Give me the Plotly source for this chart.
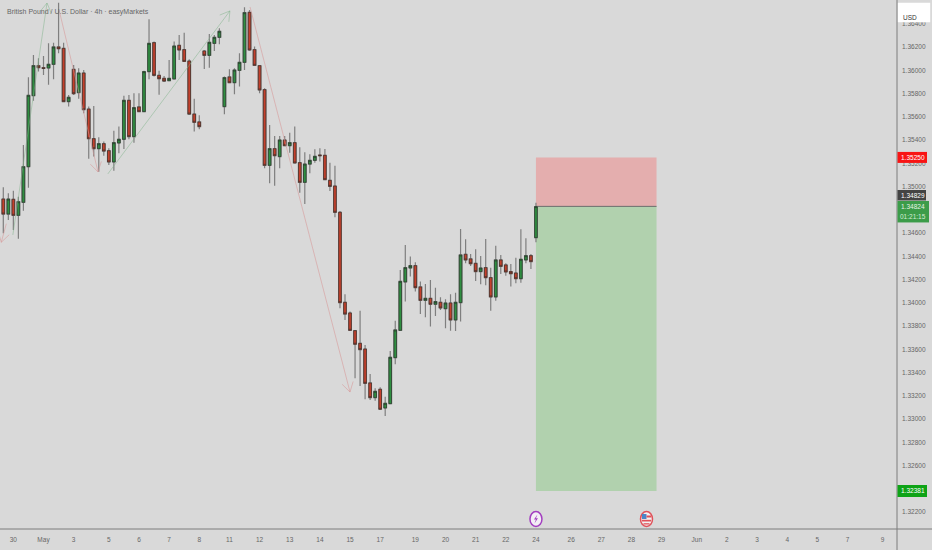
import math
import plotly.graph_objects as go

# 4h GBPUSD candles
opens = [1.34892, 1.34763, 1.34890, 1.34752, 1.34864, 1.35170, 1.35781, 1.36039, 1.36022, 1.36019,
         1.36051, 1.36200, 1.36188, 1.35730, 1.36008, 1.35807, 1.35976, 1.35666, 1.35411, 1.35325,
         1.35368, 1.35308, 1.35211, 1.35374, 1.35406, 1.35741, 1.35429, 1.35684, 1.35644, 1.35988,
         1.36237, 1.35956, 1.35930, 1.35910, 1.35925, 1.36214, 1.36177, 1.36079, 1.35623, 1.35555,
         1.36165, 1.36128, 1.36231, 1.36283, 1.35687, 1.35942, 1.35893, 1.35999, 1.36068, 1.36498,
         1.36177, 1.36039, 1.35833, 1.35182, 1.35325, 1.35257, 1.35400, 1.35351, 1.35377, 1.35205,
         1.35036, 1.35193, 1.35225, 1.35271, 1.35268, 1.35053, 1.35004, 1.34778, 1.34004, 1.33912,
         1.33760, 1.33651, 1.33602, 1.33310, 1.33184, 1.33256, 1.33095, 1.33132, 1.33528, 1.33763,
         1.34179, 1.34299, 1.34319, 1.34136, 1.34021, 1.34038, 1.33987, 1.34004, 1.33949, 1.33998,
         1.33852, 1.34001, 1.34417, 1.34377, 1.34339, 1.34268, 1.34302, 1.34216, 1.34050, 1.34368,
         1.34325, 1.34268, 1.34256, 1.34207, 1.34368, 1.34405, 1.34560]
highs = [1.34993, 1.34941, 1.34964, 1.34912, 1.35357, 1.35939, 1.36131, 1.36102, 1.36122, 1.36231,
         1.36237, 1.36581, 1.36237, 1.35787, 1.36045, 1.36016, 1.36002, 1.35687, 1.35692, 1.35423,
         1.35386, 1.35328, 1.35480, 1.35515, 1.35781, 1.35787, 1.35801, 1.35801, 1.35996, 1.36438,
         1.36246, 1.35996, 1.35950, 1.36088, 1.36246, 1.36303, 1.36323, 1.36094, 1.35755, 1.35612,
         1.36174, 1.36312, 1.36303, 1.36360, 1.35945, 1.36008, 1.36016, 1.36145, 1.36541, 1.36518,
         1.36203, 1.36045, 1.35844, 1.35529, 1.35434, 1.35434, 1.35434, 1.35463, 1.35515, 1.35337,
         1.35294, 1.35277, 1.35320, 1.35328, 1.35322, 1.35205, 1.35179, 1.34789, 1.34073, 1.33924,
         1.33766, 1.33932, 1.33637, 1.33387, 1.33264, 1.33273, 1.33192, 1.33585, 1.33846, 1.34282,
         1.34497, 1.34397, 1.34348, 1.34182, 1.34161, 1.34196, 1.34130, 1.34047, 1.34030, 1.34073,
         1.34087, 1.34635, 1.34546, 1.34420, 1.34460, 1.34402, 1.34549, 1.34302, 1.34491, 1.34411,
         1.34339, 1.34334, 1.34388, 1.34632, 1.34554, 1.34420, 1.34861]
lows = [1.34597, 1.34712, 1.34626, 1.34551, 1.34792, 1.34990, 1.35738, 1.35988, 1.35959, 1.35876,
        1.35922, 1.36145, 1.35727, 1.35687, 1.35787, 1.35755, 1.35629, 1.35239, 1.35257, 1.35127,
        1.35265, 1.35185, 1.35136, 1.35285, 1.35322, 1.35406, 1.35377, 1.35638, 1.35638, 1.35922,
        1.35945, 1.35790, 1.35899, 1.35907, 1.35922, 1.36088, 1.36071, 1.35615, 1.35472, 1.35492,
        1.36011, 1.36022, 1.36165, 1.36223, 1.35621, 1.35887, 1.35793, 1.35859, 1.36002, 1.36168,
        1.36036, 1.35801, 1.35156, 1.35027, 1.35007, 1.35156, 1.35351, 1.35291, 1.35199, 1.34947,
        1.34849, 1.35113, 1.35205, 1.35214, 1.35056, 1.34961, 1.34735, 1.33952, 1.33852, 1.33760,
        1.33350, 1.33284, 1.33170, 1.33164, 1.33158, 1.33078, 1.33026, 1.33129, 1.33471, 1.33760,
        1.34010, 1.34225, 1.34096, 1.33903, 1.33875, 1.33795, 1.33886, 1.33938, 1.33780, 1.33760,
        1.33757, 1.33838, 1.34339, 1.34316, 1.34187, 1.34159, 1.34150, 1.33932, 1.34018, 1.34248,
        1.34233, 1.34139, 1.34167, 1.34173, 1.34339, 1.34291, 1.34520]
closes = [1.34763, 1.34892, 1.34752, 1.34869, 1.35170, 1.35784, 1.36039, 1.36022, 1.36016, 1.36051,
          1.36200, 1.36185, 1.35730, 1.35767, 1.35798, 1.35976, 1.35661, 1.35411, 1.35325, 1.35368,
          1.35305, 1.35211, 1.35377, 1.35406, 1.35741, 1.35429, 1.35678, 1.35644, 1.35988, 1.36231,
          1.35956, 1.35927, 1.35907, 1.35930, 1.36208, 1.36174, 1.36076, 1.35623, 1.35552, 1.35515,
          1.36128, 1.36240, 1.36283, 1.36335, 1.35936, 1.35893, 1.36002, 1.36068, 1.36495, 1.36174,
          1.36042, 1.35830, 1.35182, 1.35325, 1.35265, 1.35400, 1.35351, 1.35377, 1.35202, 1.35036,
          1.35193, 1.35225, 1.35259, 1.35265, 1.35059, 1.35001, 1.34778, 1.34001, 1.33903, 1.33763,
          1.33643, 1.33597, 1.33307, 1.33184, 1.33238, 1.33084, 1.33135, 1.33531, 1.33766, 1.34184,
          1.34302, 1.34319, 1.34130, 1.34021, 1.34038, 1.33987, 1.34010, 1.33955, 1.33998, 1.33852,
          1.34004, 1.34411, 1.34368, 1.34336, 1.34268, 1.34299, 1.34216, 1.34050, 1.34368, 1.34313,
          1.34265, 1.34250, 1.34207, 1.34374, 1.34405, 1.34354, 1.34827]
bars = list(range(len(opens)))

# time axis
date_ticks = [2, 8, 14, 21, 27, 33, 39, 45, 51, 57, 63, 69, 75, 82, 88, 94, 100, 106, 113, 119, 125,
              131, 138, 144, 150, 156, 162, 168, 175]
date_labels = ["30", "May", "3", "5", "6", "7", "8", "11", "12", "13", "14", "15", "17", "19", "20", "21",
               "22", "24", "26", "27", "28", "29", "Jun", "2", "3", "4", "5", "7", "9"]
price_ticks = [1.322, 1.326, 1.328, 1.33, 1.332, 1.334, 1.336, 1.338, 1.34, 1.342, 1.344, 1.346,
               1.35, 1.352, 1.354, 1.356, 1.358, 1.36, 1.362, 1.364]

# long position box
box_bars = [106, 130]
stop_price = 1.3525
entry_price = 1.34829
target_price = 1.32381
last_price = 1.34824

# hand drawn arrows: bar0, price0, bar1, price1
green_arrows = [(1.9, 1.34583, 8.7, 1.36578), (20.8, 1.35108, 45.1, 1.3651)]
red_arrows = [(11.1, 1.36518, 18.85, 1.35125), (49.1, 1.36544, 69.0, 1.33232), (0.6, 1.3468, -0.4, 1.3452)]

# events on the time axis
event_price = 1.3214
flash_bar = 106
flag_bar = 128

bg = "#d9d9d9"
text_grey = "#666666"
font_name = "Liberation Sans"
bar_px = 5.025
price_px = 11625


def arrow_trace(a, color):
    x0, y0, x1, y1 = a
    # head is worked out in pixels so it keeps its shape
    ang = math.atan2((y1 - y0) * price_px, (x1 - x0) * bar_px)
    xs = [x0, x1, None]
    ys = [y0, y1, None]
    for d in (2.6, -2.6):
        xs += [x1 + 11 * math.cos(ang + d) / bar_px, x1, None]
        ys += [y1 + 11 * math.sin(ang + d) / price_px, y1, None]
    return go.Scatter(x=xs, y=ys, mode="lines", line=dict(color=color, width=1),
                      hoverinfo="skip", showlegend=False)


fig = go.Figure()

# wicks
fig.add_trace(go.Candlestick(
    x=bars, open=opens, high=highs, low=lows, close=closes, whiskerwidth=0,
    increasing=dict(line=dict(color="#7f7f7f", width=1.2), fillcolor="#7f7f7f"),
    decreasing=dict(line=dict(color="#7f7f7f", width=1.2), fillcolor="#7f7f7f"),
    hoverinfo="skip", showlegend=False))
# bodies
body_hi = [max(o, c) for o, c in zip(opens, closes)]
body_lo = [min(o, c) for o, c in zip(opens, closes)]
fig.add_trace(go.Candlestick(
    x=bars, open=opens, high=body_hi, low=body_lo, close=closes, whiskerwidth=0,
    increasing=dict(line=dict(color="#2c3d2f", width=0.8), fillcolor="#2f8f41"),
    decreasing=dict(line=dict(color="#4a322c", width=0.8), fillcolor="#c4402c"),
    hoverinfo="skip", showlegend=False))

for a in green_arrows:
    fig.add_trace(arrow_trace(a, "rgba(130,180,140,0.5)"))
for a in red_arrows:
    fig.add_trace(arrow_trace(a, "rgba(215,150,150,0.55)"))

shapes = [
    dict(type="rect", xref="x", yref="y", x0=box_bars[0], x1=box_bars[1], y0=entry_price, y1=stop_price,
         fillcolor="#e4aeae", line_width=0, layer="below"),
    dict(type="rect", xref="x", yref="y", x0=box_bars[0], x1=box_bars[1], y0=target_price, y1=entry_price,
         fillcolor="#b1d1ae", line_width=0, layer="below"),
    dict(type="line", xref="x", yref="y", x0=box_bars[0], x1=box_bars[1], y0=entry_price, y1=entry_price,
         line=dict(color="#6b6b6b", width=1), layer="below"),
    # pane borders
    dict(type="line", xref="paper", yref="paper", x0=0, x1=1.04, y0=0, y1=0, line=dict(color="#7d7d7d", width=1)),
    dict(type="line", xref="paper", yref="paper", x0=1, x1=1, y0=-0.04, y1=1, line=dict(color="#7d7d7d", width=1)),
    # USD box
    dict(type="rect", xref="paper", yref="paper", x0=1.001, x1=1.037, y0=0.958, y1=0.995,
         fillcolor="#ffffff", line_width=0),
]


def tag(price, color, top=5.5, bottom=-5.5, width=30):
    return dict(type="rect", xref="paper", yref="y", xsizemode="pixel", ysizemode="pixel", xanchor=1, yanchor=price,
                x0=0.5, x1=width, y0=bottom, y1=top, fillcolor=color, line_width=0)


shapes += [
    tag(stop_price, "#f81414"),
    # entry label is pushed up so it does not sit on the last price label
    tag(entry_price, "#444444", top=16.4, bottom=5.9, width=29),
    tag(last_price, "#3c9c49", top=6, bottom=-15.5, width=32),
    tag(target_price, "#0ea316", top=6, bottom=-6),
]


def icon(bar, **kw):
    base = dict(xref="x", yref="y", xsizemode="pixel", ysizemode="pixel", xanchor=bar, yanchor=event_price)
    base.update(kw)
    return base


shapes += [
    icon(flash_bar, type="circle", x0=-6, x1=6, y0=-7.5, y1=7.5, fillcolor="#f3eef5",
         line=dict(color="#a33fc0", width=1.5)),
    icon(flash_bar, type="path", path="M 1.5 4.5 L -2 -0.5 L 0 -0.5 L -1.5 -4.5 L 2 0.8 L 0 0.8 Z",
         fillcolor="#a33fc0", line_width=0),
    icon(flag_bar, type="circle", x0=-6, x1=6, y0=-7.5, y1=7.5, fillcolor="#f2f2f2",
         line=dict(color="#e0525a", width=1.5)),
    icon(flag_bar, type="rect", x0=-4.5, x1=0, y0=0, y1=5, fillcolor="#4a86c8", line_width=0),
    icon(flag_bar, type="rect", x0=0, x1=4.5, y0=1.5, y1=3.5, fillcolor="#e0525a", line_width=0),
    icon(flag_bar, type="rect", x0=-4.5, x1=4.5, y0=-2.5, y1=-0.8, fillcolor="#e0525a", line_width=0),
    icon(flag_bar, type="rect", x0=-3, x1=3, y0=-5.5, y1=-4.2, fillcolor="#e0525a", line_width=0),
]


def tag_text(price, text, yshift=0, x=1.0175, color="#ffffff"):
    return dict(xref="paper", yref="y", x=x, y=price, text=text, showarrow=False, yshift=yshift, xanchor="center",
                font=dict(family=font_name, size=6.5, color=color))


annotations = [
    dict(xref="paper", yref="paper", x=0.0055, y=0.9775, xanchor="left", yanchor="middle",
         text="British Pound / U.S. Dollar · 4h · easyMarkets", showarrow=False,
         font=dict(family=font_name, size=7, color="#666666")),
    dict(xref="paper", yref="paper", x=1.0145, y=0.977, xanchor="center", text="USD", showarrow=False,
         font=dict(family=font_name, size=6.5, color="#333333")),
    tag_text(stop_price, f"{stop_price:.5f}"),
    tag_text(entry_price, f"{entry_price:.5f}", yshift=11),
    tag_text(last_price, f"{last_price:.5f}", color="#e6f3e6"),
    tag_text(last_price, "01:21:15", yshift=-10, color="#d5ecd5"),
    tag_text(target_price, f"{target_price:.5f}"),
]

fig.update_layout(
    width=932, height=550, autosize=False,
    margin=dict(l=0, r=35, t=0, b=21),
    paper_bgcolor=bg, plot_bgcolor=bg,
    showlegend=False, hovermode=False, boxgap=0.25,
    shapes=shapes, annotations=annotations,
    xaxis=dict(range=[-0.657, 177.85], rangeslider=dict(visible=False), showgrid=False, zeroline=False,
               tickmode="array", tickvals=date_ticks, ticktext=date_labels, ticks="", ticklabelstandoff=5,
               tickfont=dict(family=font_name, size=6.5, color=text_grey)),
    yaxis=dict(range=[1.32054, 1.36604], side="right", showgrid=False, zeroline=False,
               tickmode="array", tickvals=price_ticks, tickformat=".5f", ticks="", ticklabelstandoff=4,
               tickfont=dict(family=font_name, size=6.5, color=text_grey)),
)

# page margin would push the chart off by 8px
fig.write_html("out.html", config=dict(displayModeBar=False),
               post_script="document.body.style.margin='0';document.body.style.overflow='hidden';")
